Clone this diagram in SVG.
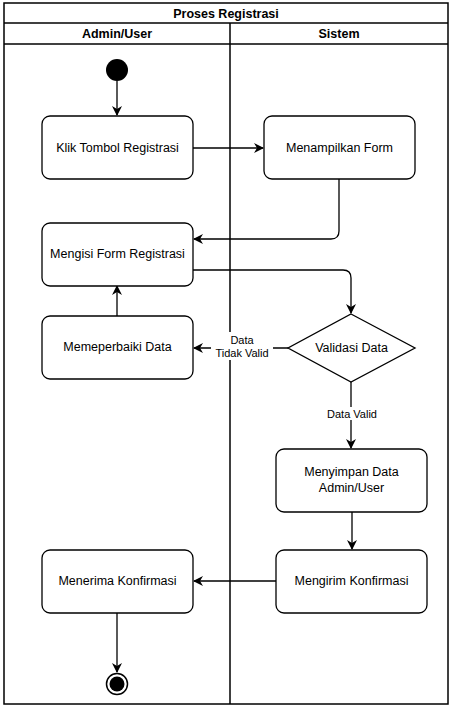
<svg xmlns="http://www.w3.org/2000/svg" width="450" height="708" viewBox="0 0 450 708">
<style>
.frame{fill:#fff;stroke:#000;stroke-width:1.5}
.node{fill:#fff;stroke:#000;stroke-width:1.3}
.t{font-family:"Liberation Sans",Arial,sans-serif;font-size:12.5px;fill:#000;text-anchor:middle}
.h{font-family:"Liberation Sans",Arial,sans-serif;font-size:12.5px;font-weight:bold;fill:#000;text-anchor:middle}
.lbl{font-family:"Liberation Sans",Arial,sans-serif;font-size:11px;fill:#000;text-anchor:middle}
.c{fill:none;stroke:#000;stroke-width:1.3}
</style>
<defs>
<marker id="arr" viewBox="0 0 10 10" refX="9" refY="5" markerWidth="10" markerHeight="10" markerUnits="userSpaceOnUse" orient="auto">
<path d="M0,0 L10,5 L0,10 L3,5 Z" fill="#000"/>
</marker>
</defs>
<rect width="450" height="708" fill="#fff"/>
<g id="pool">
<rect class="frame" x="4" y="3" width="444" height="701"/>
<line class="frame" x1="4" y1="23" x2="448" y2="23"/>
<line class="frame" x1="4" y1="44" x2="448" y2="44"/>
<line class="frame" x1="230" y1="23" x2="230" y2="704"/>
<text class="h" x="226" y="17.5">Proses Registrasi</text>
<text class="h" x="117" y="38">Admin/User</text>
<text class="h" x="339" y="38">Sistem</text>
</g>
<g id="connectors">
<path class="c" d="M117,81 V115" marker-end="url(#arr)"/>
<path class="c" d="M193,148 H263" marker-end="url(#arr)"/>
<path class="c" d="M339,179 V231 Q339,239 331,239 H194" marker-end="url(#arr)"/>
<path class="c" d="M193,270 H343 Q351,270 351,278 V313" marker-end="url(#arr)"/>
<path class="c" d="M288,348 H194" marker-end="url(#arr)"/>
<path class="c" d="M117,316 V286" marker-end="url(#arr)"/>
<path class="c" d="M351,382 V448" marker-end="url(#arr)"/>
<path class="c" d="M352,512 V549" marker-end="url(#arr)"/>
<path class="c" d="M276,581 H194" marker-end="url(#arr)"/>
<path class="c" d="M117,613 V672" marker-end="url(#arr)"/>
<rect x="211" y="332" width="62" height="28" fill="#fff"/>
<text class="lbl" x="242" y="344">Data</text>
<text class="lbl" x="242" y="357">Tidak Valid</text>
<rect x="326" y="407" width="52" height="13" fill="#fff"/>
<text class="lbl" x="352" y="418">Data Valid</text>
</g>
<g id="start"><circle cx="117" cy="70" r="11" fill="#000"/></g>
<g id="klik"><rect class="node" x="42" y="116" width="151" height="63" rx="8"/><text class="t" x="117.5" y="152">Klik Tombol Registrasi</text></g>
<g id="tampil"><rect class="node" x="264" y="116" width="151" height="63" rx="8"/><text class="t" x="339.5" y="152">Menampilkan Form</text></g>
<g id="isi"><rect class="node" x="42" y="223" width="151" height="63" rx="8"/><text class="t" x="117.5" y="258">Mengisi Form Registrasi</text></g>
<g id="perbaiki"><rect class="node" x="42" y="316" width="151" height="63" rx="8"/><text class="t" x="117.5" y="351">Memeperbaiki Data</text></g>
<g id="validasi"><polygon class="node" points="351,314 415,348 351,382 288,348"/><text class="t" x="351.5" y="352">Validasi Data</text></g>
<g id="simpan"><rect class="node" x="276" y="449" width="151" height="63" rx="8"/><text class="t" x="351.5" y="476">Menyimpan Data</text><text class="t" x="351.5" y="492">Admin/User</text></g>
<g id="kirim"><rect class="node" x="276" y="550" width="151" height="63" rx="8"/><text class="t" x="351.5" y="585">Mengirim Konfirmasi</text></g>
<g id="terima"><rect class="node" x="42" y="550" width="151" height="63" rx="8"/><text class="t" x="117.5" y="585">Menerima Konfirmasi</text></g>
<g id="end"><circle cx="117" cy="684" r="10.5" fill="#fff" stroke="#000" stroke-width="1.5"/><circle cx="117" cy="684" r="7.5" fill="#000"/></g>
</svg>
